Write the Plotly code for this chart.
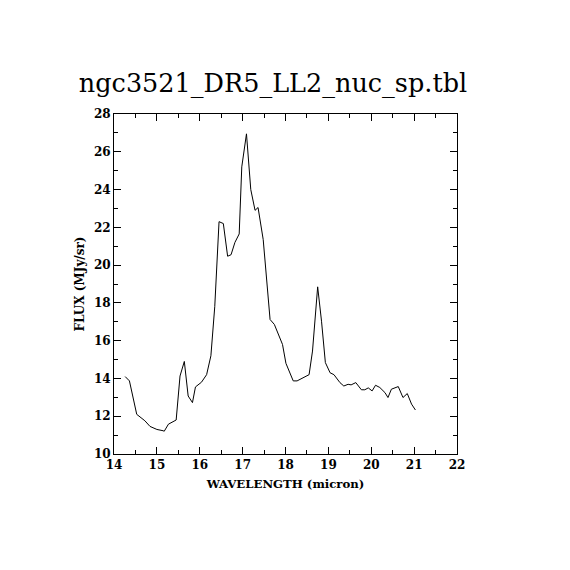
import plotly.graph_objects as go

wavelength = [14.26, 14.36, 14.53, 14.72, 14.84, 15.0, 15.15, 15.17, 15.27, 15.45,
              15.54, 15.64, 15.73, 15.83, 15.9, 16.04, 16.16, 16.26, 16.35, 16.45,
              16.55, 16.65, 16.73, 16.82, 16.92, 16.98, 17.09, 17.19, 17.29, 17.36,
              17.48, 17.64, 17.74, 17.83, 17.93, 18.01, 18.18, 18.27, 18.55, 18.63,
              18.75, 18.84, 18.93, 19.04, 19.13, 19.27, 19.36, 19.46, 19.53, 19.64,
              19.77, 19.85, 19.93, 20.02, 20.1, 20.2, 20.32, 20.39, 20.47, 20.63,
              20.74, 20.84, 20.94, 21.03]
flux = [14.1, 13.87, 12.1, 11.76, 11.46, 11.3, 11.23, 11.2, 11.58, 11.8,
        14.13, 14.9, 13.07, 12.72, 13.55, 13.8, 14.2, 15.2, 17.8, 22.3,
        22.2, 20.47, 20.55, 21.2, 21.65, 25.2, 26.95, 24.0, 22.9, 23.05,
        21.35, 17.12, 16.86, 16.4, 15.8, 14.8, 13.87, 13.87, 14.2, 15.45,
        18.85, 17.03, 14.84, 14.3, 14.2, 13.78, 13.6, 13.69, 13.66, 13.78,
        13.4, 13.4, 13.5, 13.34, 13.64, 13.52, 13.25, 12.99, 13.43, 13.57,
        12.99, 13.2, 12.64, 12.33]

title_text = "ngc3521_DR5_LL2_nuc_sp.tbl"
x_label = "WAVELENGTH (micron)"
y_label = "FLUX (MJy/sr)"

fig = go.Figure()
fig.add_trace(go.Scatter(x=wavelength, y=flux, mode="lines",
                         line=dict(color="black", width=1), showlegend=False))

axis_common = dict(
    showgrid=False, zeroline=False, showline=True, linecolor="black", linewidth=1,
    mirror="allticks", ticks="inside", ticklen=7, tickwidth=1, tickcolor="black",
    tickfont=dict(family="DejaVu Serif", size=12, color="black", weight="bold"),
)

fig.update_layout(
    width=570, height=570,
    margin=dict(l=106, r=121, t=106, b=124),
    paper_bgcolor="white", plot_bgcolor="white",
    title=dict(text=title_text, x=265 / 570, xanchor="center", y=1 - 75 / 570, yanchor="middle",
               font=dict(family="DejaVu Serif", size=25.5, color="black")),
    xaxis=dict(range=[14, 22], dtick=1, tick0=14,
               minor=dict(dtick=0.5, ticks="inside", ticklen=4, tickcolor="black"),
               title=dict(text=x_label, standoff=8,
                          font=dict(family="DejaVu Serif", size=11.7, color="black", weight="bold")),
               **axis_common),
    yaxis=dict(range=[10, 28], dtick=2, tick0=10,
               minor=dict(dtick=1, ticks="inside", ticklen=4, tickcolor="black"),
               title=dict(text=y_label, standoff=6,
                          font=dict(family="DejaVu Serif", size=12, color="black", weight="bold")),
               **axis_common),
)

fig.write_html("out.html")
